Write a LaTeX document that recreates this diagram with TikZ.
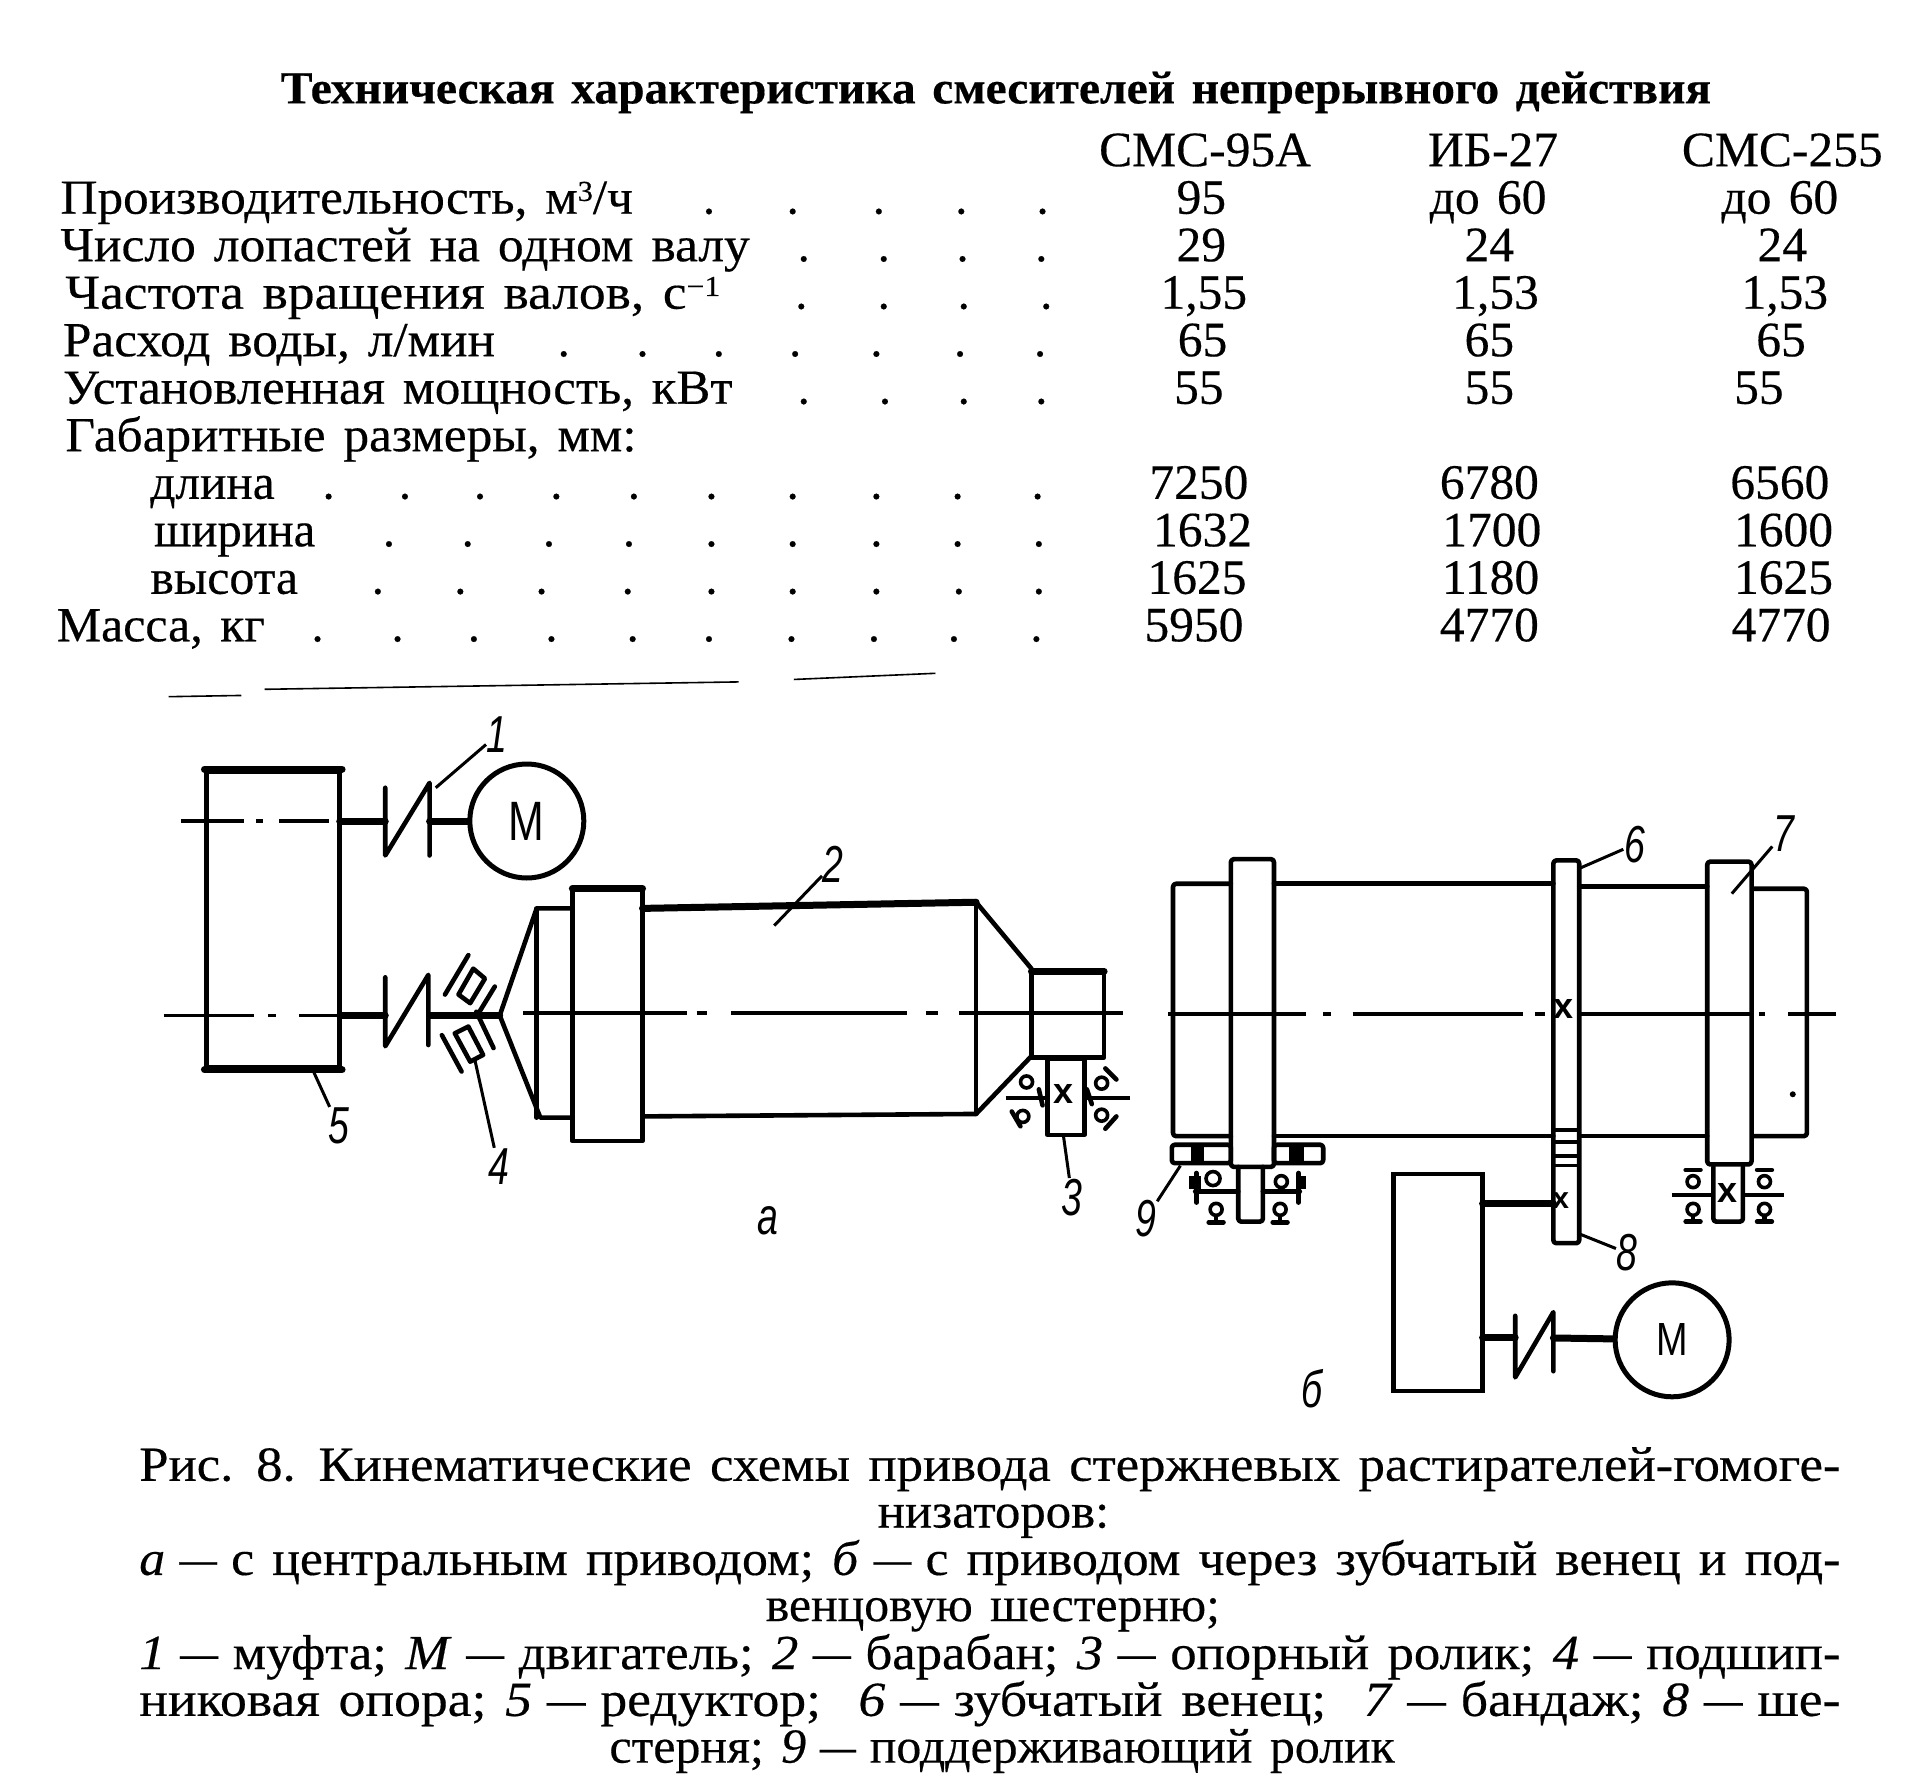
\documentclass[tikz,border=0pt]{standalone}
\usepackage{fontspec}
\usepackage{graphicx}
\setmainfont[WordSpace=1.4,FakeBold=.35]{Liberation Serif}
\newfontfamily\handfont{Liberation Sans}
\newdimen\dispx
\dispx=1.2309pt
\newcommand{\fitw}[2]{\resizebox{#1\dispx}{\height}{#2}}
\newcommand{\dsh}{\;\resizebox{.72em}{\height}{—}\;}
\newcommand{\supr}[1]{\raisebox{.26em}{\fontsize{29}{29}\selectfont #1}}
\tikzset{
	tabtext/.style={anchor=base west,inner sep=0pt,font=\fontsize{49}{49}\selectfont},
	tabval/.style={anchor=base,inner sep=0pt,font=\fontsize{49.5}{49}\selectfont},
	tabdot/.style={anchor=base,inner sep=0pt,font=\fontsize{49}{49}\selectfont},
	part/.style={line width=4.6pt,line join=round,line cap=round},
	heavy/.style={line width=7pt,line cap=round},
	axis/.style={line width=3.8pt},
	leader/.style={line width=3pt},
	pin/.style={line width=3.6pt},
	crossmark/.style={inner sep=0pt,font=\handfont\bfseries\fontsize{36}{36}\selectfont},
	gearbox/.style={draw,line width=4.6pt,inner sep=0pt},
	motor/.style={draw,circle,line width=5pt,inner sep=0pt,minimum size=114pt,font=\handfont\fontsize{50}{50}\selectfont},
	numlabel/.style={inner sep=1pt,xscale=.72,font=\handfont\itshape\fontsize{52}{52}\selectfont}
}
\begin{document}
\begin{tikzpicture}[x=1.2309pt,y=-1.2309pt]
	\useasboundingbox (0,0) rectangle (1568,1454);

	% table
	\node[tabtext,font=\bfseries\fontsize{46}{48}\selectfont] (title) at (228,84) {\fitw{1162}{Техническая характеристика смесителей непрерывного действия}};
	\foreach \val/\xx [count=\n] in {СМС-95А/979,ИБ-27/1213,СМС-255/1448}
		\node[tabval] (head\n) at (\xx,135) {\val};

	\node[tabtext] (row1) at (49,173.6) {\fitw{465}{Производительность, м\supr{3}/ч}};
	\node[tabtext] (row2) at (49,212.2) {\fitw{560}{Число лопастей на одном валу}};
	\node[tabtext] (row3) at (53,250.8) {\fitw{532}{Частота вращения валов, с\supr{−1}}};
	\node[tabtext] (row4) at (51,289.4) {\fitw{351}{Расход воды, л/мин}};
	\node[tabtext] (row5) at (51,328) {\fitw{544}{Установленная мощность, кВт}};
	\node[tabtext] (row6) at (53,366.6) {\fitw{464}{Габаритные размеры, мм:}};
	\node[tabtext] (row7) at (122,405.2) {\fitw{101}{длина}};
	\node[tabtext] (row8) at (125,443.8) {\fitw{131}{ширина}};
	\node[tabtext] (row9) at (122,482.4) {\fitw{120}{высота}};
	\node[tabtext] (row10) at (46,521) {\fitw{169}{Масса, кг}};

	\foreach \yy/\xs in {173.6/{576,644,714,781,847},212.2/{653,718,782,846},250.8/{651,718,783,850},
		289.4/{458,522,584,646,712,780,845},328/{653,719,783,846},
		405.2/{267,329,390,452,515,578,644,712,778,843},443.8/{316,380,446,511,578,644,712,778,844},
		482.4/{307,374,440,510,578,644,712,779,844},521/{258,323,385,448,514,576,643,710,775,842}}
		\foreach \xx in \xs
			\node[tabdot] (dot-\yy-\xx) at (\xx,\yy) {.};

	\foreach \val/\xx/\yy [count=\n] in {95/976/173.6,29/976/212.2,{1,55}/978/250.8,65/977/289.4,55/974/328,
		7250/974/405.2,1632/977/443.8,1625/972.5/482.4,5950/970/521,
		до 60/1209/173.6,24/1210/212.2,{1,53}/1215/250.8,65/1210/289.4,55/1210/328,
		6780/1210/405.2,1700/1212/443.8,1180/1211/482.4,4770/1210/521,
		до 60/1446/173.6,24/1448/212.2,{1,53}/1450/250.8,65/1447/289.4,55/1429/328,
		6560/1446/405.2,1600/1449/443.8,1625/1449/482.4,4770/1447/521}
		\node[tabval] (val\n) at (\xx,\yy) {\val};

	\draw[line width=1.6pt] (137,566) -- (196,565);
	\draw[line width=1.6pt] (215,560) -- (600,554);
	\draw[line width=1.6pt] (645,552) -- (760,547);

	% drive a
	\node[gearbox,minimum width=133pt,minimum height=296pt] (gearA) at (222,747) {};
	\draw[heavy] (gearA.north west) -- (gearA.north east);
	\draw[heavy] (gearA.south west) -- (gearA.south east);
	\node[motor,label={[name=letterA,inner sep=0pt,font=\handfont]center:\resizebox{29\dispx}{31\dispx}{M}}] (motorA) at (428,667) {};
	\coordinate (upperA) at (313,667);
	\coordinate (upperB) at (349,667);
	\coordinate (lowerA) at (313,825);
	\coordinate (lowerB) at (349,825);
	\coordinate (apexA) at (406,825);
	\draw[part] (313,640) -- (313,695) -- (349,636) -- (349,695);
	\draw[part] (313,794) -- (313,850) -- (348,792) -- (348,849);
	\draw[heavy] (276,667) -- (upperA);
	\draw[heavy] (upperB) -- (motorA);
	\draw[heavy] (276,825) -- (lowerA);
	\draw[heavy] (lowerB) -- (apexA);
	\draw[axis] (147,667) -- (198,667);
	\draw[axis] (208,667) -- (214,667);
	\draw[axis] (227,667) -- (267,667);
	\draw[axis] (133,825) -- (206,825);
	\draw[axis] (218,825) -- (224,825);
	\draw[axis] (243,825) -- (276,825);

	% bearing 4
	\draw[part] (380.5,776) -- (361.5,808);
	\draw[part] (384.5,787) -- (394,795) -- (382,815) -- (372.5,808) -- cycle;
	\draw[part] (402,801.5) -- (389.5,822);
	\draw[part] (359,841) -- (375,870.5);
	\draw[part] (369.5,839.5) -- (380.5,834) -- (392.5,857) -- (382,862.5) -- cycle;
	\draw[part] (387,822) -- (401,851.5);

	% drum a
	\draw[part] (465,738) -- (436,738) -- (apexA) -- (439,908) -- (465,908);
	\draw[part] (436,738) -- (436,908);
	\draw[part] (465,722) rectangle (522,927);
	\draw[heavy] (465,722) -- (522,722);
	\draw[heavy] (522,738) -- (793,733);
	\draw[part] (522,907) -- (793,905) -- (838,858);
	\draw[part] (793,733) -- (793,905);
	\draw[part] (793,733) -- (838,787);
	\draw[part] (838,789) rectangle (897,859);
	\draw[heavy] (838,789) -- (897,789);
	\draw[axis] (425,823) -- (558,823);
	\draw[axis] (566,823) -- (574,823);
	\draw[axis] (594,823) -- (737,823);
	\draw[axis] (752,823) -- (762,823);
	\draw[axis] (779,823) -- (912,823);

	% roller 3
	\draw[part] (851,860) rectangle (881,922);
	\node[crossmark] (crossA) at (864,889) {x};
	\draw[axis] (817,892) -- (851,892);
	\draw[axis] (881,892) -- (918,892);
	\draw[pin] (834,879) circle (6pt);
	\draw[pin] (831,907) circle (6pt);
	\draw[pin] (895,880) circle (6pt);
	\draw[pin] (895,906) circle (6pt);
	\draw[part] (898,868) -- (907,877);
	\draw[part] (898,917) -- (907,907);
	\draw[part] (822,903) -- (829,915);
	\draw[part] (844,885) -- (847,898);
	\draw[part] (883,885) -- (887,897);

	% drive b
	\draw[part,rounded corners=3pt] (1000,718) -- (953,718) -- (953,923) -- (1000,923);
	\draw[part] (1035,718) -- (1262,718);
	\draw[part] (1035,923) -- (1262,923);
	\draw[part] (1283,720) -- (1387,720);
	\draw[part] (1283,923) -- (1387,923);
	\draw[part,rounded corners=3pt] (1424,722) -- (1468,722) -- (1468,923) -- (1424,923);
	\draw[part,rounded corners=3pt] (1000,698) rectangle (1035,948);
	\draw[part,rounded corners=3pt] (1387,700) rectangle (1423,946);
	\draw[part,rounded corners=3pt] (1262,699) rectangle (1283,1010);
	\foreach \yy in {918,928,939,947}
		\draw[pin] (1262,\yy) -- (1283,\yy);
	\draw[axis] (949,823.5) -- (1061,823.5);
	\draw[axis] (1075,823.5) -- (1081,823.5);
	\draw[axis] (1099,823.5) -- (1237,823.5);
	\draw[axis] (1247,823.5) -- (1255,823.5);
	\draw[axis] (1284,823.5) -- (1422,823.5);
	\draw[axis] (1429,823.5) -- (1434,823.5);
	\draw[axis] (1453,823.5) -- (1492,823.5);
	\node[crossmark] (crossB) at (1270,820) {x};
	\node[crossmark,font=\handfont\bfseries\fontsize{30}{30}\selectfont] (crossC) at (1268,975) {x};
	\fill (1456.5,889) circle (3pt);

	% support roller 9
	\draw[part,rounded corners=3pt] (952,930) rectangle (1000,945);
	\draw[part,rounded corners=3pt] (1035,930) rectangle (1075,945);
	\fill (968,930) rectangle (978,945);
	\fill (1047,930) rectangle (1059,945);
	\draw[part,rounded corners=3pt] (1006,948) -- (1006,992.5) -- (1026,992.5) -- (1026,948);
	\draw[part] (971,968) -- (1006,968);
	\draw[part] (1026,968) -- (1056,968);
	\draw[part] (972,953) -- (972,977);
	\draw[part] (1055,953) -- (1055,977);
	\fill (966,955) rectangle (976,966);
	\fill (1053,955) rectangle (1061,966);
	\draw[pin] (985.5,957.5) circle (7pt);
	\draw[pin] (1041,960) circle (6pt);
	\foreach \xx in {988,1040} {
		\draw[pin] (\xx,982.5) circle (6pt);
		\draw[part] (\xx,988) -- (\xx,993);
		\draw[part] (\xx-6,993) -- (\xx+6,993);
	}

	% roller under tyre 7
	\draw[part,rounded corners=3pt] (1392,948) -- (1392,992.5) -- (1416,992.5) -- (1416,948);
	\node[crossmark] (crossD) at (1403.5,969) {x};
	\draw[axis] (1358,971) -- (1392,971);
	\draw[axis] (1416,971) -- (1449,971);
	\foreach \xx in {1375.5,1433.5} {
		\draw[pin] (\xx,960) circle (6pt);
		\draw[pin] (\xx,982.5) circle (6pt);
		\draw[part] (\xx-6,950.5) -- (\xx+6,950.5);
		\draw[part] (\xx-6,992.5) -- (\xx+6,992.5);
		\draw[part] (\xx,988) -- (\xx,992.5);
	}

	% lower gearbox and motor
	\node[gearbox,minimum width=89pt,minimum height=217pt] (gearB) at (1168.5,1042) {};
	\node[motor,label={[name=letterB,inner sep=0pt,font=\handfont]center:\resizebox{25.6\dispx}{26\dispx}{M}}] (motorB) at (1358.5,1088.5) {};
	\draw[part] (1231,1069) -- (1231,1119) -- (1262,1066) -- (1262,1114);
	\coordinate (couplerA) at (1231,1087);
	\coordinate (couplerB) at (1262,1087);
	\coordinate (pinion) at (1262,978);
	\draw[heavy] (1204.5,1087) -- (couplerA);
	\draw[heavy] (couplerB) -- (motorB);
	\draw[heavy] (1204.5,978) -- (pinion);

	% labels and leaders
	\node[numlabel] (lab1) at (404,597) {1};
	\node[numlabel] (lab2) at (677,702) {2};
	\node[numlabel] (lab3) at (871,973) {3};
	\node[numlabel] (lab4) at (405,948) {4};
	\node[numlabel] (lab5) at (275,915) {5};
	\node[numlabel] (lab6) at (1328,686) {6};
	\node[numlabel] (lab7) at (1449,677) {7};
	\node[numlabel] (lab8) at (1322,1018) {8};
	\node[numlabel] (lab9) at (931,990) {9};
	\node[numlabel] (labA) at (624,992) {a};
	\node[numlabel] (labB) at (1066,1128) {б};
	\draw[leader] (354,640) -- (lab1);
	\draw[leader] (629,752) -- (lab2);
	\draw[leader] (864,923) -- (lab3);
	\draw[leader] (386,862) -- (lab4);
	\draw[leader] (254,869) -- (lab5);
	\draw[leader] (1282,706) -- (lab6);
	\draw[leader] (1407,726) -- (lab7);
	\draw[leader] (1282,1002) -- (lab8);
	\draw[leader] (959,947) -- (lab9);

	% caption
	\node[tabtext] (cap1) at (113,1203) {\fitw{1382}{Рис. 8. Кинематические схемы привода стержневых растирателей-гомоге-}};
	\node[tabtext] (cap2) at (713,1241) {\fitw{188}{низаторов:}};
	\node[tabtext] (cap3) at (113,1279.5) {\fitw{1382}{\textit{а}\dsh с центральным приводом; \textit{б}\dsh с приводом через зубчатый венец и под-}};
	\node[tabtext] (cap4) at (622,1317) {\fitw{369}{венцовую шестерню;}};
	\node[tabtext] (cap5) at (113,1356) {\fitw{1382}{\textit{1}\dsh муфта; \textit{М}\dsh двигатель; \textit{2}\dsh барабан; \textit{3}\dsh опорный ролик; \textit{4}\dsh подшип-}};
	\node[tabtext] (cap6) at (113,1394) {\fitw{1382}{никовая опора; \textit{5}\dsh редуктор;\ \ \textit{6}\dsh зубчатый венец;\ \ \textit{7}\dsh бандаж; \textit{8}\dsh ше-}};
	\node[tabtext] (cap7) at (495,1432) {\fitw{638}{стерня; \textit{9}\dsh поддерживающий ролик}};
\end{tikzpicture}
\end{document}
